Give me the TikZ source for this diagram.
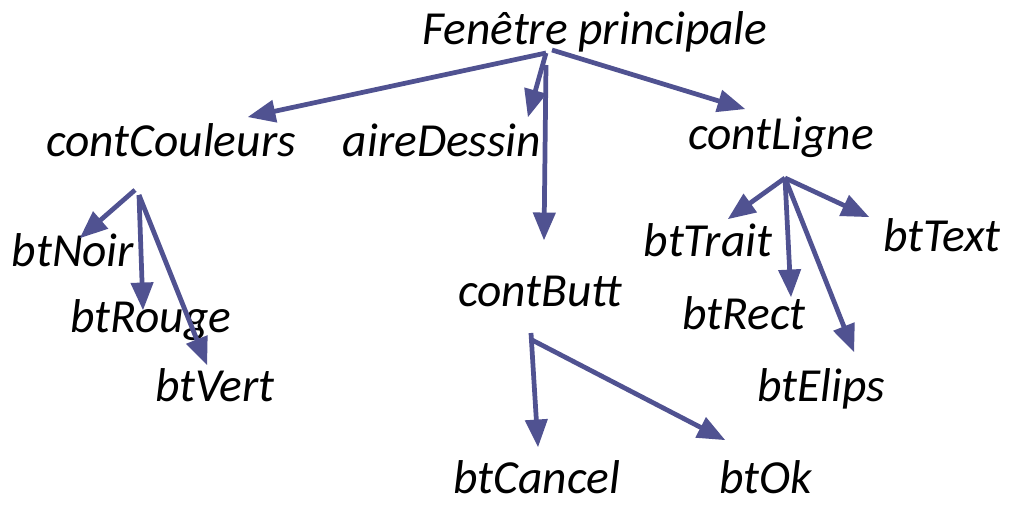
\documentclass[tikz,border=0pt]{standalone}
\usepackage{fontspec}
\setmainfont{Carlito}
\usepackage{tikz}
\tikzset{>=latex}
\usetikzlibrary{arrows}
\definecolor{linkblue}{RGB}{80,82,145}
\tikzset{
  lbl/.style={font=\fontsize{27}{32}\selectfont\itshape, anchor=base, inner sep=0pt},
  link/.style={->, color=linkblue, line width=2.7pt}
}

\begin{document}
\begin{tikzpicture}[line join=round,>=triangle 45,x=0.02cm,y=-0.02cm]
	\useasboundingbox (0,0) rectangle (1009,506);
	% labels
	\node[lbl] (fp) at (595,45) {Fenêtre principale};
	\node[lbl] (cCoul) at (171,157) {contCouleurs};
	\node[lbl] (aire) at (442,157) {aireDessin};
	\node[lbl] (cLigne) at (781,150) {contLigne};
	\node[lbl] (noir) at (73,267) {btNoir};
	\node[lbl] (rouge) at (151,333) {btRouge};
	\node[lbl] (vert) at (215,402) {btVert};
	\node[lbl] (cButt) at (540,307) {contButt};
	\node[lbl] (trait) at (708,257) {btTrait};
	\node[lbl] (text) at (942,252) {btText};
	\node[lbl] (rect) at (744,330) {btRect};
	\node[lbl] (elips) at (821,402) {btElips};
	\node[lbl] (cancel) at (537,494) {btCancel};
	\node[lbl] (ok) at (766,494) {btOk};
	% hubs and tips
	\coordinate (fpL) at (546,53);
	\coordinate (fpR) at (552,50);
	\coordinate (fpV) at (546,65);
	\coordinate (cCoulTip) at (248,117);
	\coordinate (aireTip) at (528,117);
	\coordinate (cLigneTip) at (745,109);
	\coordinate (cButtTip) at (544,240);
	\coordinate (ccHub) at (135,190);
	\coordinate (ccHubB) at (139,195);
	\coordinate (noirTip) at (80,238);
	\coordinate (rougeTip) at (143,310);
	\coordinate (vertTip) at (207,365);
	\coordinate (clHub) at (785,178);
	\coordinate (traitTip) at (728,219);
	\coordinate (textTip) at (869,217);
	\coordinate (rectTip) at (791,297);
	\coordinate (elipsTip) at (854,352);
	\coordinate (cbHub) at (531,333);
	\coordinate (cbHubB) at (532,340);
	\coordinate (cancelTip) at (538,447);
	\coordinate (okTip) at (725,440);
	% arrows
	\draw[link] (fpL) -- (cCoulTip);
	\draw[link] (fpL) -- (aireTip);
	\draw[link] (fpV) -- (cButtTip);
	\draw[link] (fpR) -- (cLigneTip);
	\draw[link] (ccHub) -- (noirTip);
	\draw[link] (ccHubB) -- (rougeTip);
	\draw[link] (ccHubB) -- (vertTip);
	\draw[link] (clHub) -- (traitTip);
	\draw[link] (clHub) -- (textTip);
	\draw[link] (clHub) -- (rectTip);
	\draw[link] (clHub) -- (elipsTip);
	\draw[link] (cbHub) -- (cancelTip);
	\draw[link] (cbHubB) -- (okTip);
\end{tikzpicture}
\end{document}
